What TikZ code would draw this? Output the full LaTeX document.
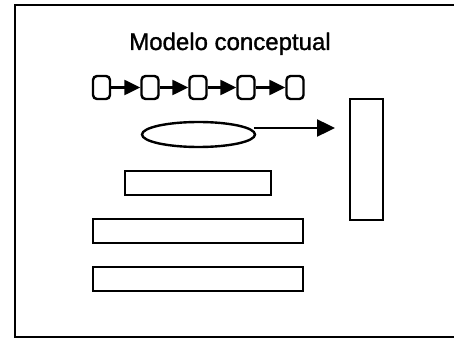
\documentclass[tikz,border=0pt]{standalone}
\usepackage{fontspec}
\setmainfont{Liberation Sans}
\newfontfamily\titlefont[FakeBold=1.2]{Liberation Sans}
\usetikzlibrary{arrows.meta,shapes.geometric,calc}
\begin{document}
\begin{tikzpicture}[x=1pt,y=-1pt,
  ln/.style={line width=2.4pt},
  rbox/.style={ln,draw,rounded corners=4pt,minimum width=17pt,minimum height=23pt,inner sep=0pt},
  bbox/.style={ln,draw,inner sep=0pt},
  chainarrow/.style={ln,-{Triangle[length=16pt 0 0,width=15pt 0 0]}},
  bigarrow/.style={ln,-{Triangle[length=18pt 0 0,width=17pt 0 0]}}]
\useasboundingbox (0,0) rectangle (454,339);
\draw[line width=2.8pt] (470,5) -- (15,5) -- (15,337) -- (470,337);
\node[anchor=base,font=\titlefont\fontsize{24}{28}\selectfont,inner sep=0pt] (title) at (230,50) {Modelo conceptual};
\foreach \i/\x in {1/101.5,2/150,3/198,4/246,5/295}{
  \node[rbox] (b\i) at (\x,87.5) {};
}
\foreach \i/\j in {1/2,2/3,3/4,4/5}{
  \draw[chainarrow] (b\i) -- (b\j);
}
\node[ellipse,ln,draw,minimum width=113pt,minimum height=25pt,inner sep=0pt] (ell) at (198.5,134.5) {};
\node[bbox,minimum width=33pt,minimum height=121pt] (tall) at (366.5,159.5) {};
\coordinate (aend) at (335,128);
\draw[bigarrow] ([xshift=-2pt,yshift=6.5pt]ell.east) -- (aend);
\node[bbox,minimum width=146pt,minimum height=24pt] (r1) at (198,183) {};
\node[bbox,minimum width=210pt,minimum height=24pt] (r2) at (198,231) {};
\node[bbox,minimum width=210pt,minimum height=24pt] (r3) at (198,279) {};
\end{tikzpicture}
\end{document}
